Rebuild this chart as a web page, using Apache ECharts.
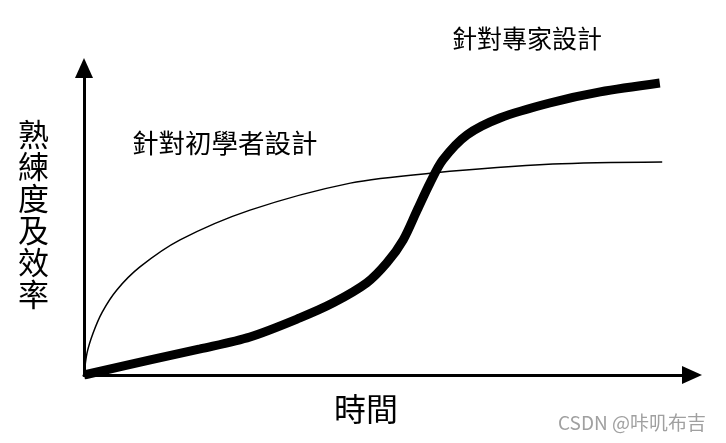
<!DOCTYPE html>
<html><head><meta charset="utf-8">
<script src="https://cdn.jsdelivr.net/npm/echarts@6/dist/echarts.min.js"></script>
<style>html,body{margin:0;padding:0;background:#fff}#c{width:726px;height:443px}</style>
</head><body><div id="c"></div>
<script>
// Novice-oriented design curve (x: time, y: proficiency), values in 0-100 units
const noviceX = [0, 0.5, 1.5, 3.0, 5.4, 9.2, 15.8, 27.3, 43.8, 57.4, 77.1, 95.1];
const noviceY = [0, 7.2, 13.7, 20.5, 27.7, 35.2, 44.0, 53.7, 62.5, 65.8, 68.7, 69.4];
// Expert-oriented design curve
const expertX = [0, 10.9, 19.1, 27.3, 35.5, 41.0, 46.5, 49.8, 52.5, 54.8, 56.9, 59.0, 63.0, 68.4, 76.6, 84.9, 94.7];
const expertY = [0, 4.9, 8.5, 12.4, 18.6, 23.5, 30.0, 36.5, 44.0, 53.7, 62.5, 70.0, 78.2, 83.7, 88.6, 92.2, 95.1];
const labels = { expert: '針對專家設計', novice: '針對初學者設計', yName: '熟練度及效率', xName: '時間', mark: 'CSDN @咔叽布吉' };

const zip = (xs, ys) => xs.map((x, i) => [x, ys[i]]);
const font = '"Noto Sans CJK TC", "Noto Sans CJK SC", sans-serif';
const chart = echarts.init(document.getElementById('c'));
chart.setOption({
  animation: false,
  backgroundColor: '#fff',
  grid: { left: 84, right: 34, top: 68, bottom: 68 },
  xAxis: {
    type: 'value', min: 0, max: 100,
    axisLine: { show: true, lineStyle: { color: '#000', width: 3 }, symbol: ['none', 'triangle'], symbolSize: [18, 20] },
    axisTick: { show: false }, axisLabel: { show: false }, splitLine: { show: false }
  },
  yAxis: {
    type: 'value', min: 0, max: 100,
    axisLine: { show: true, lineStyle: { color: '#000', width: 3 }, symbol: ['none', 'triangle'], symbolSize: [18, 20] },
    axisTick: { show: false }, axisLabel: { show: false }, splitLine: { show: false }
  },
  series: [
    { type: 'line', name: labels.novice, data: zip(noviceX, noviceY), smooth: 0.3, showSymbol: false,
      lineStyle: { color: '#000', width: 1.5 } },
    { type: 'line', name: labels.expert, data: zip(expertX, expertY), smooth: 0.3, showSymbol: false,
      lineStyle: { color: '#000', width: 9, cap: 'butt' } }
  ],
  graphic: [
    { type: 'text', left: 452, top: 26, style: { text: labels.expert, font: '25px ' + font, fill: '#000' } },
    { type: 'text', left: 132, top: 130, style: { text: labels.novice, font: '26.5px ' + font, fill: '#000' } },
    { type: 'text', left: 18, top: 118, style: { text: labels.yName.split('').join('\n'), font: '31px ' + font, lineHeight: 32, fill: '#000', align: 'center' } },
    { type: 'text', left: 334, top: 393, style: { text: labels.xName, font: '32px ' + font, fill: '#000' } },
    { type: 'text', left: 558, top: 413, style: { text: labels.mark, font: '19px ' + font, fill: '#a0a0a0' } }
  ]
});
</script></body></html>
